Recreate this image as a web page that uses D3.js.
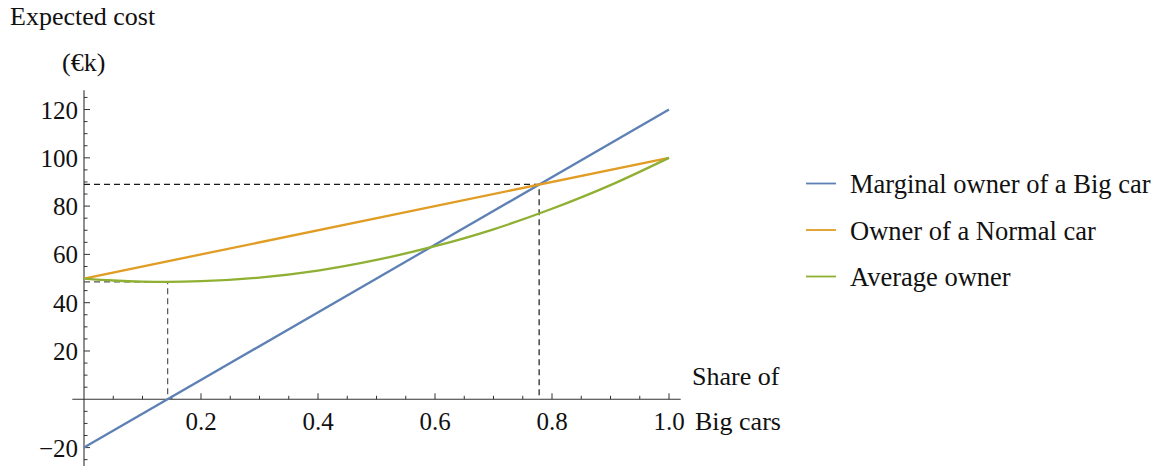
<!DOCTYPE html>
<html>
<head>
<meta charset="utf-8">
<script src="https://cdn.jsdelivr.net/npm/d3@7"></script>
<style>
    body { margin: 0; background: #fff; }
    svg text { font-family: 'Liberation Serif', 'DejaVu Serif', serif; fill: #111; }
</style>
</head>
<body>
<svg class="canvas" width="1161" height="466"></svg>
<script>
// share of big cars on x, expected cost (k euro) on y
const marginalBig = [[0, -20], [1, 120]];
const normalOwner = [[0, 50], [1, 100]];
const averageOwner = [
    [0, 50], [0.05, 49.2], [0.1, 48.75], [0.143, 48.64], [0.2, 48.9], [0.3, 50.4],
    [0.4, 53.3], [0.5, 57.7], [0.6, 63.4], [0.7, 70.4], [0.8, 78.9], [0.9, 88.7], [1, 100]
];
const seriesNames = ['Marginal owner of a Big car', 'Owner of a Normal car', 'Average owner'];
const seriesColors = ['#5e81b5', '#e19c24', '#8fb032'];
// equilibrium and minimum of the average
const dropPoints = [
    {x: 0.778, y: 89, color: '#1a1a1a'},
    {x: 0.143, y: 48.64, color: '#555'}
];
const xTickValues = [0.2, 0.4, 0.6, 0.8, 1.0];
const yTickValues = [-20, 20, 40, 60, 80, 100, 120];

const svg = d3.select('.canvas');

const x = d3.scaleLinear().domain([-0.02, 1.02]).range([72.3, 680.7]);
const y = d3.scaleLinear().domain([-28, 128]).range([466.9, 90.2]);

var axisColor = '#333';

// minor ticks first, then the axis lines
var xMinor = d3.range(0.05, 1.001, 0.05);
var yMinor = d3.range(-25, 126, 5).filter(v => v !== 0);

svg.append('g').selectAll('line').data(xMinor).join('line')
    .attr('x1', d => x(d)).attr('x2', d => x(d))
    .attr('y1', y(0))
    .attr('y2', d => y(0) - (xTickValues.some(t => Math.abs(t - d) < 1e-6) ? 6 : 3.5))
    .attr('stroke', axisColor).attr('stroke-width', 1);

svg.append('g').selectAll('line').data(yMinor).join('line')
    .attr('y1', d => y(d)).attr('y2', d => y(d))
    .attr('x1', x(0))
    .attr('x2', d => x(0) + (d % 20 === 0 ? 6 : 3.5))
    .attr('stroke', axisColor).attr('stroke-width', 1);

svg.append('line')
    .attr('x1', x(-0.02)).attr('x2', x(1.02))
    .attr('y1', y(0)).attr('y2', y(0))
    .attr('stroke', axisColor).attr('stroke-width', 1.1);

svg.append('line')
    .attr('x1', x(0)).attr('x2', x(0))
    .attr('y1', y(-28)).attr('y2', y(128))
    .attr('stroke', axisColor).attr('stroke-width', 1.1);

// tick labels
svg.append('g').selectAll('text').data(xTickValues).join('text')
    .attr('x', d => x(d))
    .attr('y', y(0) + 31)
    .attr('text-anchor', 'middle')
    .attr('font-size', 25)
    .text(d => d3.format('.1f')(d));

svg.append('g').selectAll('text').data(yTickValues).join('text')
    .attr('x', x(0) - 6)
    .attr('y', d => y(d) + 9)
    .attr('text-anchor', 'end')
    .attr('font-size', 25)
    .text(d => d < 0 ? '\u2212' + Math.abs(d) : d);

// axis labels
svg.append('text').attr('x', 10).attr('y', 25).attr('font-size', 26).text('Expected cost');
svg.append('text').attr('x', 62).attr('y', 71).attr('font-size', 26).text('(€k)');
svg.append('text').attr('x', 692).attr('y', 385).attr('font-size', 26).text('Share of');
svg.append('text').attr('x', 695).attr('y', 430).attr('font-size', 26).text('Big cars');

// dashed drop lines
dropPoints.forEach(function(p){
    svg.append('path')
        .attr('d', 'M' + x(0) + ',' + y(p.y) + 'H' + x(p.x) + 'V' + y(0))
        .attr('fill', 'none')
        .attr('stroke', p.color)
        .attr('stroke-width', 1.2)
        .attr('stroke-dasharray', '6,4');
});

// the three curves
var line = d3.line().x(d => x(d[0])).y(d => y(d[1])).curve(d3.curveMonotoneX);
[marginalBig, normalOwner, averageOwner].forEach(function(data, i){
    svg.append('path')
        .datum(data)
        .attr('d', line)
        .attr('fill', 'none')
        .attr('stroke', seriesColors[i])
        .attr('stroke-width', 2.3);
});

// legend
var legend = svg.append('g').selectAll('g').data(seriesNames).join('g')
    .attr('transform', (d, i) => 'translate(806,' + (183.5 + i * 46.5) + ')');
legend.append('line')
    .attr('x1', 0).attr('x2', 30)
    .attr('stroke', (d, i) => seriesColors[i])
    .attr('stroke-width', 1.8);
legend.append('text')
    .attr('x', 44).attr('y', 9.5)
    .attr('font-size', 26.5)
    .text(d => d);
</script>
</body>
</html>
